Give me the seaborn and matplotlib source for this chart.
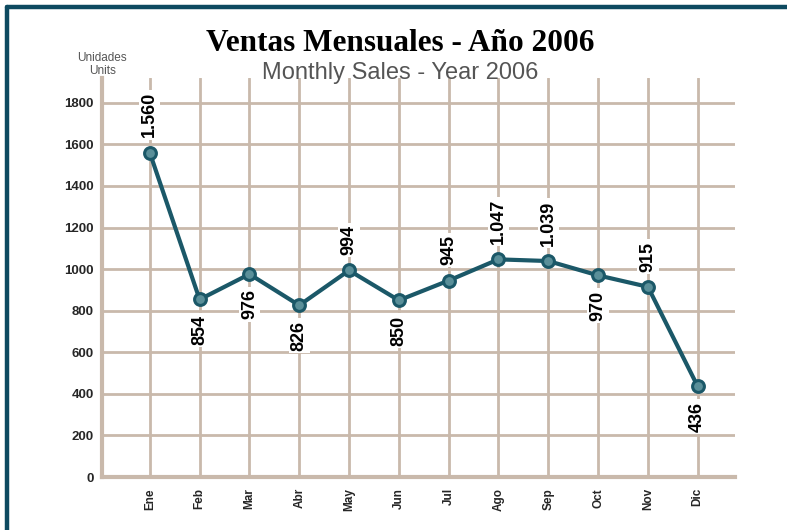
import matplotlib
matplotlib.use("Agg")
import matplotlib.pyplot as plt
from matplotlib.lines import Line2D
import seaborn as sns
import pandas as pd

months = ["Ene", "Feb", "Mar", "Abr", "May", "Jun",
          "Jul", "Ago", "Sep", "Oct", "Nov", "Dic"]
sales = [1560, 854, 976, 826, 994, 850, 945, 1047, 1039, 970, 915, 436]
label_text = ["1.560", "854", "976", "826", "994", "850",
              "945", "1.047", "1.039", "970", "915", "436"]
label_above = [True, False, False, False, True, False,
               True, True, True, False, True, False]
y_ticks = [0, 200, 400, 600, 800, 1000, 1200, 1400, 1600, 1800]

df = pd.DataFrame({"month": months, "sales": sales})

sns.set_style("white")
grid_col = "#c9b9ab"
line_col = "#1b5868"

fig = plt.figure(figsize=(7.87, 5.30), dpi=100)
ax = fig.add_axes([0.1296, 0.10, 0.8044, 0.753])

sns.lineplot(data=df, x="month", y="sales", ax=ax, color=line_col,
             linewidth=3, marker="o", markersize=8.5,
             markerfacecolor="#5a8f99", markeredgecolor=line_col,
             markeredgewidth=2.2, sort=False)

ax.set_xlim(-0.96, 11.75)
ax.set_ylim(0, 1920)
ax.set_yticks(y_ticks)
ax.set_xticks(range(len(months)))
ax.set_xticklabels(months, rotation=90, fontsize=8.5, fontweight="bold",
                   family="Liberation Sans")
for t in ax.get_yticklabels():
    t.set_fontsize(9.5)
    t.set_fontweight("bold")
    t.set_family("Liberation Sans")
ax.tick_params(axis="both", length=0)
ax.tick_params(axis="x", pad=8)
ax.tick_params(axis="y", pad=6)
ax.set_xlabel("")
ax.set_ylabel("")

ax.set_axisbelow(True)
ax.grid(True, color=grid_col, linewidth=2)
for side in ["top", "right"]:
    ax.spines[side].set_visible(False)
for side in ["left", "bottom"]:
    ax.spines[side].set_color(grid_col)
    ax.spines[side].set_linewidth(3)

for i, (v, txt, up) in enumerate(zip(sales, label_text, label_above)):
    ax.annotate(txt, xy=(i, v), xytext=(0, 11 if up else -11),
                textcoords="offset points", rotation=90,
                ha="center", va="bottom" if up else "top",
                fontsize=13, fontweight="bold", family="Liberation Sans",
                color="black",
                bbox=dict(facecolor="white", edgecolor="none", pad=1.5))

fig.text(0.508, 0.918, "Ventas Mensuales - Año 2006", ha="center",
         va="center", fontsize=22.5, fontweight="bold", color="black",
         family="Liberation Serif")
fig.text(0.508, 0.862, "Monthly Sales - Year 2006", ha="center",
         va="center", fontsize=17, color="#555555",
         family="Liberation Sans")
fig.text(0.13, 0.878, "Unidades\nUnits", ha="center", va="center",
         fontsize=8.5, color="#555555", family="Liberation Sans",
         linespacing=1.1)

# frame on top and left edges
border = "#0d4a60"
fig.add_artist(Line2D([7 / 787, 7 / 787], [0, 1 - 7 / 530],
                      transform=fig.transFigure, color=border, linewidth=3.2))
fig.add_artist(Line2D([7 / 787, 1], [1 - 7 / 530, 1 - 7 / 530],
                      transform=fig.transFigure, color=border, linewidth=3.2))

fig.savefig("out.png", dpi=100)
